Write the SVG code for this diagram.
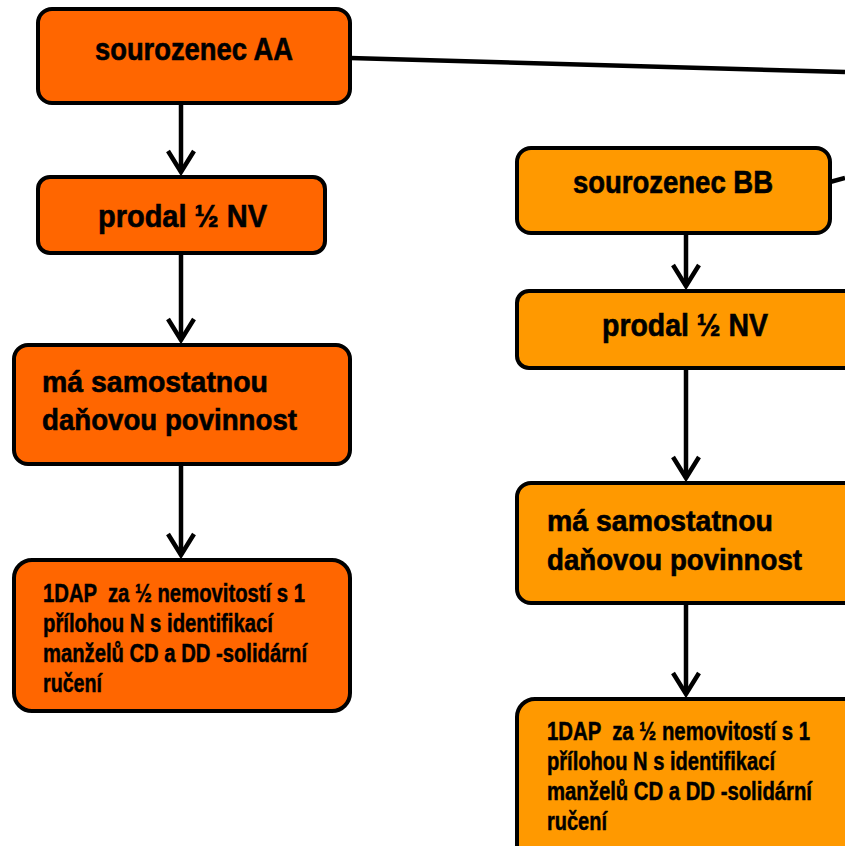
<svg xmlns="http://www.w3.org/2000/svg" width="845" height="846" viewBox="0 0 845 846">
<style>
.box{stroke:#000;stroke-width:4}
.a{fill:#FF6600}
.b{fill:#FF9900}
text{font-family:"Liberation Sans",Arial,sans-serif;font-weight:bold;fill:#000;stroke:#000;stroke-width:0.6;white-space:pre}
.t{font-size:31px}
.m{font-size:29px}
.s{font-size:26px;stroke-width:0.5}
.con{stroke:#000;stroke-width:4.5;fill:none}
</style>
<defs>
<marker id="arr" viewBox="-26 -16 30 32" refX="0" refY="0" markerWidth="30" markerHeight="32" markerUnits="userSpaceOnUse" orient="auto">
<path d="M-21,-13 L0,0 L-21,13" fill="none" stroke="#000" stroke-width="4.5"/>
</marker>
</defs>
<g id="connectors">
<line class="con" x1="350" y1="58" x2="845" y2="72"/>
<line class="con" x1="830" y1="182" x2="845" y2="178"/>
<line class="con" x1="181" y1="103" x2="181" y2="172" marker-end="url(#arr)"/>
<line class="con" x1="181" y1="253" x2="181" y2="340" marker-end="url(#arr)"/>
<line class="con" x1="181" y1="464" x2="181" y2="555" marker-end="url(#arr)"/>
<line class="con" x1="686" y1="233" x2="686" y2="286" marker-end="url(#arr)"/>
<line class="con" x1="686" y1="368" x2="686" y2="478" marker-end="url(#arr)"/>
<line class="con" x1="686" y1="603" x2="686" y2="694" marker-end="url(#arr)"/>
</g>
<g id="aa1">
<rect class="box a" x="38" y="9" width="312" height="94" rx="14"/>
<text class="t" x="95" y="60" textLength="198" lengthAdjust="spacingAndGlyphs">sourozenec AA</text>
</g>
<g id="aa2">
<rect class="box a" x="38" y="177" width="287" height="76" rx="12"/>
<text class="t" x="98" y="227" textLength="169" lengthAdjust="spacingAndGlyphs">prodal ½ NV</text>
</g>
<g id="aa3">
<rect class="box a" x="14" y="345" width="336" height="119" rx="14"/>
<text class="m" x="42" y="392" textLength="226" lengthAdjust="spacingAndGlyphs">má samostatnou</text>
<text class="m" x="42" y="430" textLength="255" lengthAdjust="spacingAndGlyphs">daňovou povinnost</text>
</g>
<g id="aa4">
<rect class="box a" x="14" y="560" width="336" height="151" rx="18"/>
<text class="s" x="43" y="602" textLength="262" lengthAdjust="spacingAndGlyphs">1DAP  za ½ nemovitostí s 1</text>
<text class="s" x="43" y="632" textLength="230" lengthAdjust="spacingAndGlyphs">přílohou N s identifikací</text>
<text class="s" x="43" y="662" textLength="264" lengthAdjust="spacingAndGlyphs">manželů CD a DD -solidární</text>
<text class="s" x="43" y="692" textLength="59" lengthAdjust="spacingAndGlyphs">ručení</text>
</g>
<g id="bb1">
<rect class="box b" x="517" y="148" width="313" height="85" rx="14"/>
<text class="t" x="573" y="193" textLength="200" lengthAdjust="spacingAndGlyphs">sourozenec BB</text>
</g>
<g id="bb2">
<rect class="box b" x="517" y="291" width="345" height="77" rx="12"/>
<text class="t" x="602" y="336" textLength="166" lengthAdjust="spacingAndGlyphs">prodal ½ NV</text>
</g>
<g id="bb3">
<rect class="box b" x="517" y="483" width="345" height="120" rx="14"/>
<text class="m" x="547" y="531" textLength="226" lengthAdjust="spacingAndGlyphs">má samostatnou</text>
<text class="m" x="547" y="570" textLength="255" lengthAdjust="spacingAndGlyphs">daňovou povinnost</text>
</g>
<g id="bb4">
<rect class="box b" x="517" y="699" width="345" height="170" rx="18"/>
<text class="s" x="547" y="740" textLength="263" lengthAdjust="spacingAndGlyphs">1DAP  za ½ nemovitostí s 1</text>
<text class="s" x="547" y="770" textLength="228" lengthAdjust="spacingAndGlyphs">přílohou N s identifikací</text>
<text class="s" x="547" y="800" textLength="265" lengthAdjust="spacingAndGlyphs">manželů CD a DD -solidární</text>
<text class="s" x="547" y="830" textLength="60" lengthAdjust="spacingAndGlyphs">ručení</text>
</g>
</svg>
